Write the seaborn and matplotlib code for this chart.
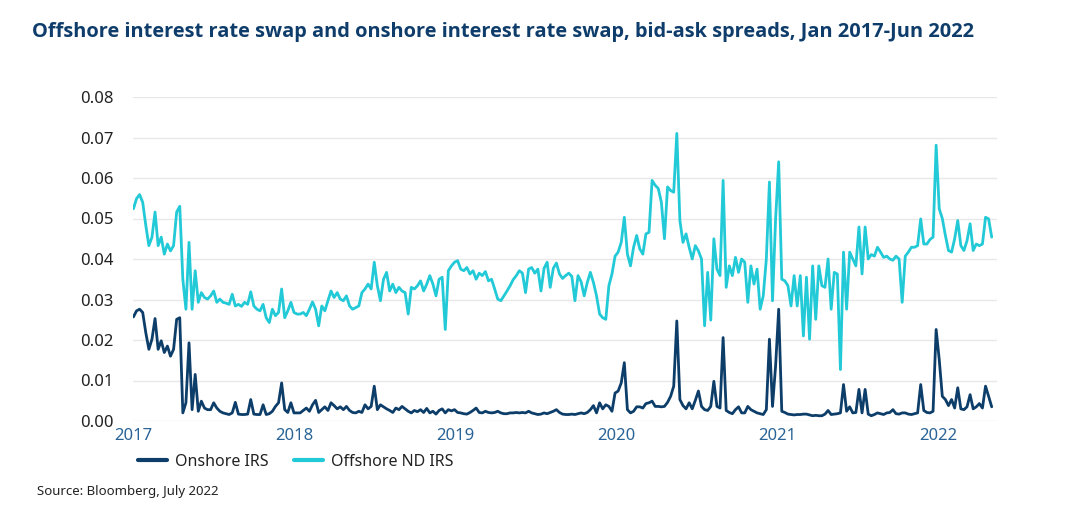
import numpy as np
import pandas as pd
import matplotlib
matplotlib.use("Agg")
import matplotlib.pyplot as plt
import seaborn as sns
from matplotlib.lines import Line2D

# Weekly readings, starting first week of Jan 2017
start_date = "2017-01-02"

onshore_irs = [
    0.0257, 0.0272, 0.0276, 0.0268, 0.0218, 0.0177, 0.0202, 0.0253, 0.0177, 0.0198,
    0.0169, 0.0185, 0.0160, 0.0177, 0.0251, 0.0255, 0.0020, 0.0045, 0.0193, 0.0028,
    0.0115, 0.0024, 0.0049, 0.0032, 0.0028, 0.0028, 0.0045, 0.0032, 0.0024, 0.0020,
    0.0018, 0.0016, 0.0020, 0.0046, 0.0017, 0.0016, 0.0016, 0.0017, 0.0053, 0.0017,
    0.0016, 0.0016, 0.0040, 0.0016, 0.0018, 0.0024, 0.0036, 0.0045, 0.0094, 0.0028,
    0.0021, 0.0045, 0.0020, 0.0020, 0.0020, 0.0026, 0.0032, 0.0024, 0.0040, 0.0051,
    0.0021, 0.0028, 0.0035, 0.0026, 0.0045, 0.0038, 0.0030, 0.0035, 0.0028, 0.0036,
    0.0026, 0.0021, 0.0020, 0.0024, 0.0021, 0.0040, 0.0030, 0.0036, 0.0086, 0.0028,
    0.0040, 0.0035, 0.0030, 0.0026, 0.0021, 0.0032, 0.0028, 0.0036, 0.0030, 0.0024,
    0.0020, 0.0026, 0.0023, 0.0028, 0.0021, 0.0031, 0.0020, 0.0024, 0.0017, 0.0026,
    0.0030, 0.0020, 0.0028, 0.0025, 0.0028, 0.0021, 0.0020, 0.0018, 0.0017, 0.0021,
    0.0026, 0.0032, 0.0021, 0.0020, 0.0024, 0.0021, 0.0020, 0.0021, 0.0024, 0.0020,
    0.0018, 0.0018, 0.0020, 0.0020, 0.0021, 0.0020, 0.0021, 0.0020, 0.0024, 0.0020,
    0.0018, 0.0016, 0.0017, 0.0020, 0.0018, 0.0021, 0.0024, 0.0028, 0.0021, 0.0017,
    0.0016, 0.0016, 0.0017, 0.0016, 0.0018, 0.0020, 0.0018, 0.0021, 0.0028, 0.0038,
    0.0020, 0.0045, 0.0030, 0.0040, 0.0036, 0.0024, 0.0069, 0.0074, 0.0094, 0.0144,
    0.0028, 0.0020, 0.0024, 0.0035, 0.0035, 0.0032, 0.0043, 0.0045, 0.0049, 0.0036,
    0.0036, 0.0035, 0.0036, 0.0046, 0.0061, 0.0086, 0.0247, 0.0053, 0.0038, 0.0030,
    0.0045, 0.0030, 0.0051, 0.0074, 0.0036, 0.0028, 0.0026, 0.0036, 0.0098, 0.0036,
    0.0032, 0.0206, 0.0026, 0.0021, 0.0018, 0.0028, 0.0035, 0.0020, 0.0020, 0.0036,
    0.0028, 0.0024, 0.0020, 0.0018, 0.0016, 0.0028, 0.0202, 0.0036, 0.0136, 0.0276,
    0.0024, 0.0021, 0.0017, 0.0016, 0.0015, 0.0016, 0.0016, 0.0017, 0.0017, 0.0015,
    0.0013, 0.0014, 0.0013, 0.0013, 0.0017, 0.0026, 0.0016, 0.0017, 0.0018, 0.0020,
    0.0090, 0.0024, 0.0035, 0.0020, 0.0021, 0.0078, 0.0020, 0.0078, 0.0017, 0.0013,
    0.0016, 0.0020, 0.0018, 0.0016, 0.0020, 0.0021, 0.0028, 0.0018, 0.0017, 0.0020,
    0.0020, 0.0017, 0.0016, 0.0018, 0.0020, 0.0090, 0.0026, 0.0021, 0.0020, 0.0024,
    0.0226, 0.0152, 0.0061, 0.0053, 0.0038, 0.0053, 0.0032, 0.0082, 0.0030, 0.0028,
    0.0035, 0.0065, 0.0030, 0.0035, 0.0043, 0.0032, 0.0086, 0.0061, 0.0035,
]

offshore_nd_irs = [
    0.0524, 0.0549, 0.0559, 0.0540, 0.0483, 0.0433, 0.0454, 0.0516, 0.0433, 0.0454,
    0.0412, 0.0437, 0.0420, 0.0433, 0.0516, 0.0530, 0.0350, 0.0276, 0.0441, 0.0276,
    0.0371, 0.0293, 0.0317, 0.0305, 0.0301, 0.0309, 0.0321, 0.0293, 0.0301, 0.0293,
    0.0291, 0.0288, 0.0313, 0.0284, 0.0288, 0.0283, 0.0293, 0.0288, 0.0319, 0.0284,
    0.0276, 0.0272, 0.0288, 0.0255, 0.0243, 0.0276, 0.0260, 0.0268, 0.0326, 0.0255,
    0.0272, 0.0293, 0.0268, 0.0264, 0.0264, 0.0268, 0.0260, 0.0276, 0.0294, 0.0276,
    0.0235, 0.0284, 0.0272, 0.0297, 0.0321, 0.0305, 0.0317, 0.0301, 0.0297, 0.0309,
    0.0284, 0.0276, 0.0280, 0.0284, 0.0317, 0.0326, 0.0338, 0.0326, 0.0392, 0.0334,
    0.0297, 0.0350, 0.0367, 0.0321, 0.0338, 0.0317, 0.0330, 0.0321, 0.0317, 0.0264,
    0.0330, 0.0326, 0.0334, 0.0346, 0.0321, 0.0338, 0.0359, 0.0338, 0.0309, 0.0350,
    0.0355, 0.0226, 0.0371, 0.0383, 0.0392, 0.0396, 0.0375, 0.0371, 0.0379, 0.0363,
    0.0371, 0.0350, 0.0365, 0.0359, 0.0369, 0.0346, 0.0350, 0.0326, 0.0301, 0.0297,
    0.0309, 0.0321, 0.0334, 0.0349, 0.0359, 0.0371, 0.0365, 0.0317, 0.0375, 0.0379,
    0.0365, 0.0375, 0.0321, 0.0377, 0.0392, 0.0330, 0.0377, 0.0390, 0.0363, 0.0352,
    0.0359, 0.0365, 0.0357, 0.0297, 0.0359, 0.0344, 0.0309, 0.0342, 0.0367, 0.0342,
    0.0309, 0.0264, 0.0255, 0.0251, 0.0334, 0.0363, 0.0407, 0.0417, 0.0441, 0.0503,
    0.0412, 0.0383, 0.0429, 0.0458, 0.0425, 0.0412, 0.0462, 0.0466, 0.0594, 0.0582,
    0.0574, 0.0540, 0.0450, 0.0578, 0.0569, 0.0565, 0.0710, 0.0495, 0.0441, 0.0462,
    0.0429, 0.0400, 0.0433, 0.0420, 0.0400, 0.0235, 0.0367, 0.0249, 0.0450, 0.0375,
    0.0359, 0.0594, 0.0330, 0.0383, 0.0359, 0.0404, 0.0367, 0.0400, 0.0392, 0.0293,
    0.0383, 0.0338, 0.0375, 0.0276, 0.0309, 0.0400, 0.0590, 0.0297, 0.0499, 0.0640,
    0.0350, 0.0346, 0.0334, 0.0284, 0.0359, 0.0284, 0.0359, 0.0210, 0.0355, 0.0202,
    0.0383, 0.0251, 0.0383, 0.0334, 0.0330, 0.0400, 0.0276, 0.0367, 0.0363, 0.0127,
    0.0417, 0.0276, 0.0417, 0.0400, 0.0383, 0.0479, 0.0363, 0.0479, 0.0400, 0.0411,
    0.0407, 0.0429, 0.0417, 0.0404, 0.0407, 0.0400, 0.0397, 0.0407, 0.0400, 0.0293,
    0.0407, 0.0417, 0.0429, 0.0429, 0.0433, 0.0499, 0.0437, 0.0437, 0.0448, 0.0454,
    0.0681, 0.0524, 0.0500, 0.0458, 0.0421, 0.0417, 0.0450, 0.0495, 0.0433, 0.0421,
    0.0445, 0.0487, 0.0421, 0.0437, 0.0433, 0.0437, 0.0503, 0.0499, 0.0454,
]

series_names = ["Onshore IRS", "Offshore ND IRS"]
y_ticks = [0.00, 0.01, 0.02, 0.03, 0.04, 0.05, 0.06, 0.07, 0.08]
x_tick_years = ["2017", "2018", "2019", "2020", "2021", "2022"]
title = "Offshore interest rate swap and onshore interest rate swap, bid-ask spreads, Jan 2017-Jun 2022"
source = "Source: Bloomberg, July 2022"

dates = pd.date_range(start_date, periods=len(onshore_irs), freq="7D")
df = pd.DataFrame({
    "date": np.concatenate([dates, dates]),
    "value": onshore_irs + offshore_nd_irs,
    "series": [series_names[0]] * len(onshore_irs) + [series_names[1]] * len(offshore_nd_irs),
})

sns.set_theme(style="white")
plt.rcParams["font.family"] = ["Noto Sans", "DejaVu Sans"]

fig = plt.figure(figsize=(10.8, 5.15), dpi=100)
ax = fig.add_axes([133 / 1080, 1 - 421 / 515, (997 - 133) / 1080, (421 - 97) / 515])

palette = {series_names[0]: "#0d3d69", series_names[1]: "#22c9d6"}
sns.lineplot(data=df, x="date", y="value", hue="series", hue_order=series_names,
             palette=palette, linewidth=2.0, ax=ax, legend=False)

ax.set_ylim(0, 0.08)
ax.set_xlim(pd.Timestamp("2017-01-01"), pd.Timestamp("2022-05-14"))
ax.set_yticks(y_ticks)
ax.set_yticklabels([f"{v:.2f}" for v in y_ticks], fontsize=12, color="#222222")
ax.set_xticks([pd.Timestamp(f"{y}-01-01") for y in x_tick_years])
ax.set_xticklabels(x_tick_years, fontsize=12, color="#2a6496")
ax.tick_params(axis="x", length=0, pad=5)
ax.tick_params(axis="y", length=0, pad=14)
ax.grid(axis="y", color="#e8e8e8", linewidth=1.0)
ax.set_axisbelow(True)
for s in ax.spines.values():
    s.set_visible(False)
ax.set_xlabel("")
ax.set_ylabel("")

handles = [Line2D([0], [0], color=palette[n], linewidth=3) for n in series_names]
fig.legend(handles, series_names, loc="center left", bbox_to_anchor=(124 / 1080, 1 - 462 / 515),
           ncol=2, frameon=False, fontsize=11.5, handlelength=1.8, handletextpad=0.5,
           columnspacing=1.6, labelcolor="#222222")

fig.text(32 / 1080, 1 - 32 / 515, title, fontsize=14.4, fontweight="bold",
         family=["Open Sans", "DejaVu Sans"], color="#0f3d6b", va="center", ha="left")
fig.text(37 / 1080, 1 - 492 / 515, source, fontsize=9.5, color="#222222",
         va="center", ha="left")

fig.savefig("out.png", dpi=100)
